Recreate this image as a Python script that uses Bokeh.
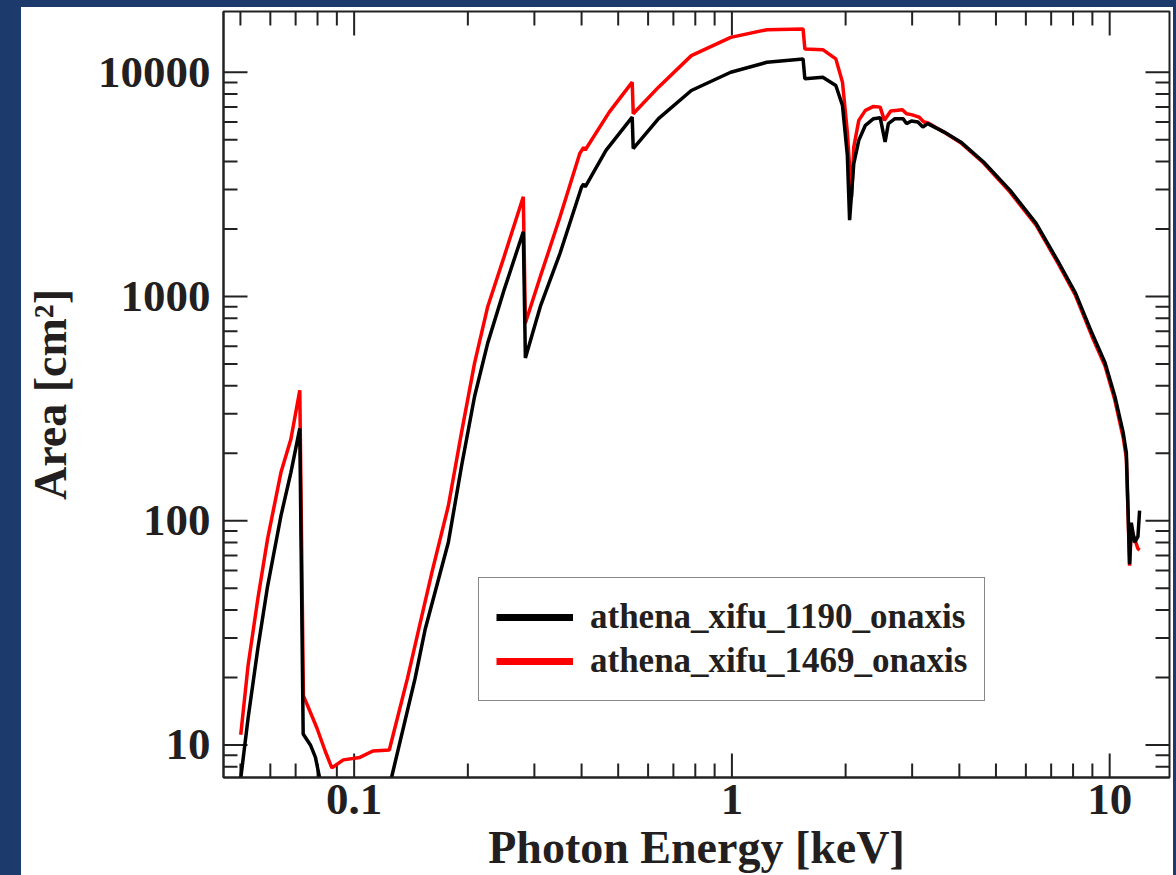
import numpy as np
from bokeh.plotting import figure
from bokeh.layouts import column, row
from bokeh.models import (FixedTicker, Legend, LegendItem,
                          Range1d, BasicTickFormatter, Div)
from bokeh.embed import file_html
from bokeh.resources import INLINE

# ---------------- data ----------------
series_names = ["athena_xifu_1190_onaxis", "athena_xifu_1469_onaxis"]
series_colors = ["#000000", "#ff0000"]

energy_1190 = [0.0501, 0.0524, 0.0556, 0.0590, 0.0640, 0.0680, 0.0718, 0.0733,
               0.0766, 0.0790, 0.0812, 0.088, 0.100, 0.115, 0.1256, 0.145,
               0.1543, 0.1776, 0.1924, 0.2084, 0.2258, 0.2495, 0.2804, 0.2840,
               0.3111, 0.3508, 0.400, 0.405, 0.409, 0.4642, 0.5446, 0.5480,
               0.6393, 0.7809, 0.9928, 1.238, 1.543, 1.560, 1.740, 1.884,
               1.962, 2.021, 2.049, 2.102, 2.167, 2.256, 2.371, 2.469, 2.544,
               2.595, 2.702, 2.840, 2.899, 2.987, 3.107, 3.202, 3.299, 3.647,
               4.032, 4.637, 5.443, 6.387, 7.347, 8.121, 8.975, 9.721, 10.32,
               10.86, 11.07, 11.19, 11.29, 11.41, 11.64, 11.88, 12.0]
area_1190 = [7.1, 13.2, 26.9, 51, 105, 164, 258, 11.2,
             10.0, 8.8, 7.0, 5.0, 4.0, 5.0, 7.16, 19.8,
             33.0, 80.2, 175, 359, 621, 1071, 1945, 532,
             903, 1559, 3080, 3170, 3080, 4487, 6310, 4570,
             6210, 8290, 10000, 11080, 11470, 9350, 9500, 8730,
             7110, 4260, 2190, 3915, 4970, 5800, 6210, 6270, 4890,
             5900, 6210, 6210, 5900, 6060, 5995, 5700, 5900, 5410,
             4890, 3981, 2980, 2118, 1407, 1035, 687, 506, 359,
             247, 201, 109, 64, 98, 80, 85, 111]

energy_1469 = [0.0501, 0.0524, 0.0556, 0.0590, 0.0640, 0.0680, 0.0718, 0.0734,
               0.0797, 0.0839, 0.0873, 0.0936, 0.1035, 0.1121, 0.1239, 0.1384,
               0.1484, 0.1607, 0.1776, 0.1924, 0.2084, 0.2258, 0.2495, 0.2804,
               0.2840, 0.3111, 0.3508, 0.3956, 0.405, 0.409, 0.4735, 0.5446,
               0.5480, 0.6393, 0.7809, 0.9928, 1.238, 1.543, 1.560, 1.740,
               1.884, 1.962, 2.021, 2.074, 2.102, 2.167, 2.256, 2.371, 2.469,
               2.533, 2.633, 2.827, 2.899, 2.987, 3.128, 3.222, 3.299, 3.647,
               4.032, 4.637, 5.443, 6.387, 7.347, 8.121, 8.975, 9.721, 10.32,
               10.86, 11.07, 11.19, 11.29, 11.41, 11.88, 12.0]
area_1469 = [11.1, 22.7, 44.9, 83, 164, 231, 382, 16.6,
             11.9, 9.35, 7.9, 8.58, 8.8, 9.4, 9.5, 19.8,
             33.0, 59.0, 116.6, 247, 506, 903, 1506, 2783,
             762, 1227, 2267, 4340, 4620, 4500, 6640, 9030,
             6530, 8580, 11860, 14310, 15480, 15600, 12700, 12610,
             11470, 9030, 5410, 2775, 4640, 6100, 6760, 7040, 6990,
             6100, 6710, 6800, 6530, 6470, 6310, 5995, 5950, 5400,
             4850, 3940, 2930, 2080, 1380, 1010, 665, 490, 345,
             235, 190, 105, 63, 92, 75, 74]

x_major_ticks = [0.1, 1, 10]
x_tick_labels = ["0.1", "1", "10"]
y_major_ticks = [10, 100, 1000, 10000]
y_tick_labels = ["10", "100", "1000", "10000"]

x_limits = (0.0451, 14.4)
y_limits = (7.16, 18660)

x_title = "Photon Energy [keV]"
y_title = "Area [cm\u00b2]"


def minor_ticks(lo, hi):
    out = []
    for d in range(int(np.floor(np.log10(lo))), int(np.ceil(np.log10(hi))) + 1):
        for m in range(2, 10):
            v = m * 10.0 ** d
            if lo <= v <= hi:
                out.append(v)
    return out


x_minor_ticks = minor_ticks(*x_limits)
y_minor_ticks = minor_ticks(*y_limits)

FONT = "Liberation Serif"
TXT = "#231f20"
AX = "#222222"
BLUE = "#1d3a6d"

# page: blue edge 21px left, 7px top, 3px right
W, H = 1152, 868
p = figure(width=W, height=H, x_axis_type="log", y_axis_type="log",
           x_range=Range1d(*x_limits), y_range=Range1d(*y_limits),
           output_backend="svg", toolbar_location=None,
           min_border_left=187, min_border_right=4,
           min_border_top=4, min_border_bottom=96)
p.background_fill_color = "white"
p.border_fill_color = "white"
p.grid.visible = False
p.outline_line_color = AX
p.outline_line_width = 2


def style_axis(ax, ticks, labels, standoff, title, title_standoff):
    ax.ticker = FixedTicker(ticks=list(ticks))
    ax.formatter = BasicTickFormatter(use_scientific=False)
    ax.major_label_overrides = dict(zip(ticks, labels))
    ax.axis_line_color = AX
    ax.axis_line_width = 2
    ax.major_tick_in = 0
    ax.major_tick_out = 0
    ax.minor_tick_in = 0
    ax.minor_tick_out = 0
    ax.major_tick_line_color = None
    ax.minor_tick_line_color = None
    ax.major_label_text_font = FONT
    ax.major_label_text_font_style = "bold"
    ax.major_label_text_font_size = "45px"
    ax.major_label_text_color = TXT
    ax.major_label_standoff = standoff
    ax.axis_label = title
    ax.axis_label_text_font = FONT
    ax.axis_label_text_font_style = "bold"
    ax.axis_label_text_font_size = "46px"
    ax.axis_label_text_color = TXT
    ax.axis_label_standoff = title_standoff


style_axis(p.xaxis[0], x_major_ticks, x_tick_labels, 7, x_title, 5)
style_axis(p.yaxis[0], y_major_ticks, y_tick_labels, 13, y_title, 19)

# inward tick marks on all four sides (screen-length rays from the frame edges)
for ticks, length in ((x_major_ticks, 24), (x_minor_ticks, 14)):
    n = len(ticks)
    p.ray(x=ticks, y=[y_limits[0]] * n, length=length, angle=np.pi / 2,
          length_units="screen", line_color=AX, line_width=2)
    p.ray(x=ticks, y=[y_limits[1]] * n, length=length, angle=-np.pi / 2,
          length_units="screen", line_color=AX, line_width=2)
for ticks, length in ((y_major_ticks, 24), (y_minor_ticks, 14)):
    n = len(ticks)
    p.ray(x=[x_limits[0]] * n, y=ticks, length=length, angle=0.0,
          length_units="screen", line_color=AX, line_width=2)
    p.ray(x=[x_limits[1]] * n, y=ticks, length=length, angle=np.pi,
          length_units="screen", line_color=AX, line_width=2)

# curves (red first, black drawn on top)
p.line(energy_1469, area_1469, line_color=series_colors[1], line_width=3.5)
p.line(energy_1190, area_1190, line_color=series_colors[0], line_width=3.5)

# legend proxies with thicker lines (single point -> nothing drawn in the plot)
leg_items = []
for name, col, ex, ar in zip(series_names, series_colors,
                             [energy_1190, energy_1469], [area_1190, area_1469]):
    r = p.line(x=ex[:1], y=ar[:1], line_color=col, line_width=7)
    leg_items.append(LegendItem(label=name, renderers=[r]))

legend = Legend(items=leg_items, location=(255, 76), margin=0,
                padding=17, spacing=0, glyph_width=77, glyph_height=44,
                label_height=44, label_standoff=17,
                label_text_font=FONT, label_text_font_style="bold",
                label_text_font_size="35px", label_text_color=TXT,
                border_line_color="#111111", border_line_width=1.5,
                background_fill_color="white", background_fill_alpha=1.0)
p.add_layout(legend)

blue_top = Div(text="", width=1176, height=7, margin=0,
               styles={"background-color": BLUE})
blue_left = Div(text="", width=21, height=H, margin=0,
                styles={"background-color": BLUE})
blue_right = Div(text="", width=3, height=H, margin=0,
                 styles={"background-color": BLUE})
page = column(blue_top, row(blue_left, p, blue_right, spacing=0), spacing=0)

open("out.html", "w").write(file_html(page, INLINE))
